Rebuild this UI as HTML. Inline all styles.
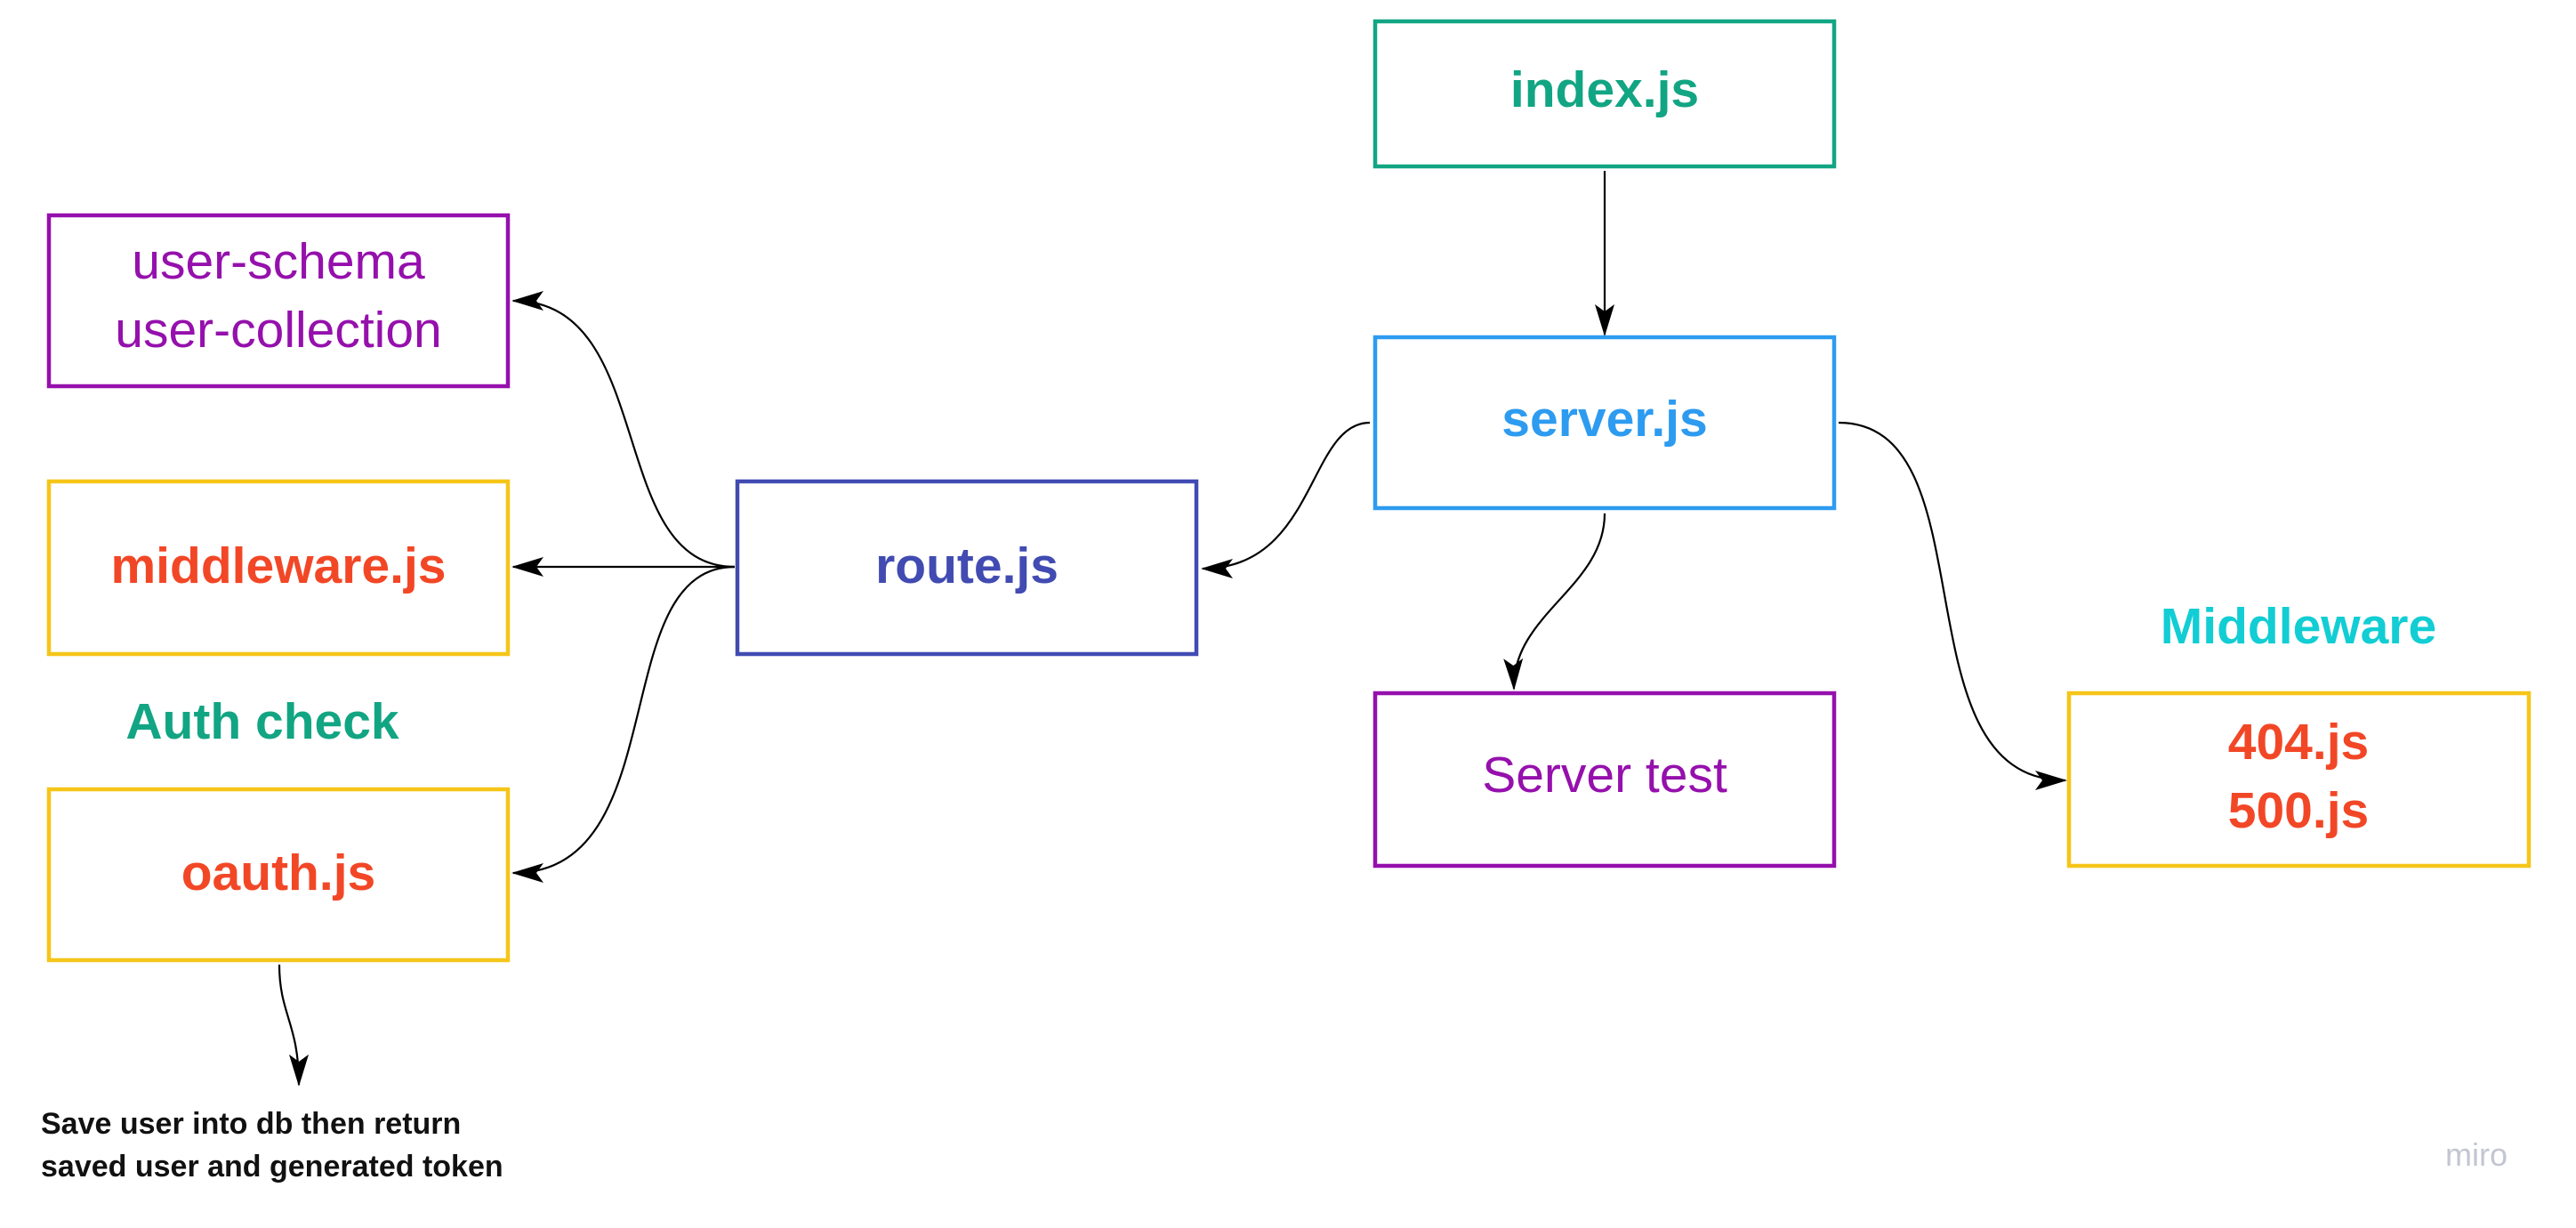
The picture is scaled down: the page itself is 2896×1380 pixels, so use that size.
<!DOCTYPE html>
<html><head><meta charset="utf-8"><style>
html,body{margin:0;padding:0;background:#fff;}
svg{display:block;}
text{font-family:"Liberation Sans",sans-serif;text-anchor:middle;}
</style></head><body>
<svg width="2896" height="1380" viewBox="0 0 2896 1380" xmlns="http://www.w3.org/2000/svg">
<defs>
<marker id="b" markerWidth="36" markerHeight="22" refX="34" refY="11" orient="auto" markerUnits="userSpaceOnUse" viewBox="0 0 36 22">
<path d="M0,0 L36,11 L0,22 L8,11 z" fill="#000"/>
</marker>
</defs>
<g fill="none" stroke-width="4.5">
<rect x="55" y="242" width="516" height="192" stroke="#9510ac"/>
<rect x="55" y="541" width="516" height="194" stroke="#f5c518"/>
<rect x="55" y="887" width="516" height="192" stroke="#f5c518"/>
<rect x="829" y="541" width="516" height="194" stroke="#414bb2"/>
<rect x="1546" y="24" width="516" height="163" stroke="#12a583"/>
<rect x="1546" y="379" width="516" height="192" stroke="#2d9bf0"/>
<rect x="1546" y="779" width="516" height="194" stroke="#9510ac"/>
<rect x="2326" y="779" width="517" height="194" stroke="#f5c518"/>
</g>
<g fill="none" stroke="#000" stroke-width="2.2" marker-end="url(#b)">
<path d="M1804,192 L1804,376"/>
<path d="M1540,475 C1470,475 1480,639 1352,639"/>
<path d="M1804,577 C1804,660 1700,690 1702,774"/>
<path d="M2067,475 C2240,475 2130,877 2322,877"/>
<path d="M826,637 C680,637 740,338 577,338"/>
<path d="M826,637 L577,637"/>
<path d="M826,637 C680,637 760,981 577,981"/>
<path d="M314,1084 C314,1140 336,1150 336,1219"/>
</g>
<g font-weight="bold" font-size="57">
<text x="1804" y="120" fill="#12a583">index.js</text>
<text x="1804" y="490" fill="#2d9bf0">server.js</text>
<text x="1087" y="655" fill="#414bb2">route.js</text>
<text x="313" y="655" fill="#f24726">middleware.js</text>
<text x="313" y="1000" fill="#f24726">oauth.js</text>
<text x="295" y="830" fill="#12a583">Auth check</text>
<text x="2584" y="723" fill="#12cdd4">Middleware</text>
<text x="2584" y="853" fill="#f24726">404.js</text>
<text x="2584" y="930" fill="#f24726">500.js</text>
</g>
<g font-size="57" fill="#9510ac">
<text x="313" y="313">user-schema</text>
<text x="313" y="390">user-collection</text>
<text x="1804" y="890">Server test</text>
</g>
<g font-weight="bold" font-size="34" fill="#111">
<text x="46" y="1274" style="text-anchor:start">Save user into db then return</text>
<text x="46" y="1322" style="text-anchor:start">saved user and generated token</text>
</g>
<text x="2784" y="1310" font-size="36" fill="#c3c6d1">miro</text>
</svg>
</body></html>
